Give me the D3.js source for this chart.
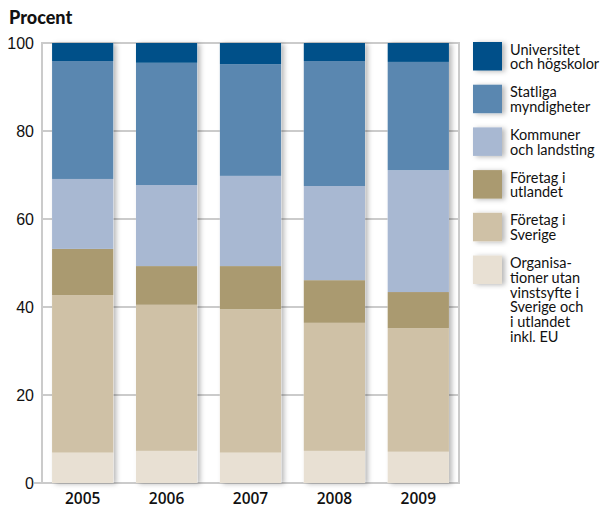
<!DOCTYPE html>
<html>
<head>
<meta charset="utf-8">
<script src="https://cdn.jsdelivr.net/npm/d3@7"></script>
<style>
  body { margin: 0; background: #fff; }
  svg { display: block; }
</style>
</head>
<body>
<svg id="chart" width="603" height="506"></svg>
<script>
// data (percent of total)
const years = ["2005", "2006", "2007", "2008", "2009"];
const seriesNames = [
  "Organisationer utan vinstsyfte i Sverige och i utlandet inkl. EU",
  "Företag i Sverige",
  "Företag i utlandet",
  "Kommuner och landsting",
  "Statliga myndigheter",
  "Universitet och högskolor"
];
const organisationer = [6.9, 7.3, 6.9, 7.3, 7.1];
const foretagSverige = [35.8, 33.2, 32.6, 29.1, 28.1];
const foretagUtland  = [10.5, 8.8, 9.8, 9.7, 8.2];
const kommuner       = [15.9, 18.4, 20.5, 21.4, 27.7];
const statliga       = [26.8, 27.8, 25.4, 28.4, 24.6];
const universitet    = [4.1, 4.5, 4.8, 4.1, 4.3];
const yTicks = [0, 20, 40, 60, 80, 100];

// legend text, top to bottom, as broken in the picture
const legendLines = [
  ["Universitet", "och högskolor"],
  ["Statliga", "myndigheter"],
  ["Kommuner", "och landsting"],
  ["Företag i", "utlandet"],
  ["Företag i", "Sverige"],
  ["Organisa-", "tioner utan", "vinstsyfte i", "Sverige och", "i utlandet", "inkl. EU"]
];

const colors = ["#e8e0d3", "#cfc1a6", "#aa9a70", "#a8b8d2", "#5a87b0", "#005089"];

const svg = d3.select("#chart");

const defs = svg.append("defs");
const shadow = defs.append("filter").attr("id", "shadow")
  .attr("x", "-20%").attr("y", "-20%").attr("width", "150%").attr("height", "140%");
shadow.append("feDropShadow")
  .attr("dx", 3).attr("dy", 1)
  .attr("stdDeviation", 2.5)
  .attr("flood-color", "#000")
  .attr("flood-opacity", 0.28);

const plot = {left: 42, right: 459, top: 43, bottom: 483};

const x = d3.scaleBand()
  .domain(years)
  .range([plot.left, plot.right])
  .paddingInner(0.27)
  .paddingOuter(0.12);

const y = d3.scaleLinear()
  .domain([0, 100])
  .range([plot.bottom, plot.top]);

// build table for stacking
const table = years.map((yr, i) => ({
  year: yr,
  s0: organisationer[i],
  s1: foretagSverige[i],
  s2: foretagUtland[i],
  s3: kommuner[i],
  s4: statliga[i],
  s5: universitet[i]
}));
const keys = ["s0", "s1", "s2", "s3", "s4", "s5"];
const stacked = d3.stack().keys(keys)(table);

// grid lines
const grid = svg.append("g");
grid.selectAll("line")
  .data(yTicks.filter(d => d > 0))
  .enter()
  .append("line")
  .attr("x1", plot.left)
  .attr("x2", plot.right)
  .attr("y1", d => y(d))
  .attr("y2", d => y(d))
  .style("stroke", "#cbcbcb")
  .style("stroke-width", "2px");

// frame: left, right, bottom
grid.append("line")
  .attr("x1", plot.left).attr("x2", plot.left)
  .attr("y1", plot.top - 1).attr("y2", plot.bottom + 1)
  .style("stroke", "#cbcbcb").style("stroke-width", "2px");
grid.append("line")
  .attr("x1", plot.right).attr("x2", plot.right)
  .attr("y1", plot.top - 1).attr("y2", plot.bottom + 1)
  .style("stroke", "#cbcbcb").style("stroke-width", "2px");
grid.append("line")
  .attr("x1", plot.left - 8).attr("x2", plot.right)
  .attr("y1", y(0)).attr("y2", y(0))
  .style("stroke", "#cbcbcb").style("stroke-width", "2px");

// bars with shadow
const bars = svg.append("g");
bars.selectAll("g.bar")
  .data(table)
  .enter()
  .append("rect")
  .attr("x", d => x(d.year))
  .attr("y", y(100))
  .attr("width", x.bandwidth())
  .attr("height", y(0) - y(100))
  .style("fill", "#fff")
  .attr("filter", "url(#shadow)");

bars.selectAll("g.layer")
  .data(stacked)
  .enter()
  .append("g")
  .attr("class", "layer")
  .style("fill", (d, i) => colors[i])
  .selectAll("rect")
  .data(d => d)
  .enter()
  .append("rect")
  .attr("x", d => x(d.data.year))
  .attr("y", d => y(d[1]))
  .attr("width", x.bandwidth())
  .attr("height", d => y(d[0]) - y(d[1]));

// y tick labels
svg.append("g").selectAll("text")
  .data(yTicks)
  .enter()
  .append("text")
  .attr("x", 34)
  .attr("y", d => y(d) + 6)
  .attr("text-anchor", "end")
  .style("font-family", "'Liberation Sans', Arial, sans-serif")
  .style("font-size", "16px")
  .style("fill", "#111")
  .text(d => d);

// x labels
svg.append("g").selectAll("text")
  .data(years)
  .enter()
  .append("text")
  .attr("x", d => x(d) + x.bandwidth() / 2)
  .attr("y", 504)
  .attr("text-anchor", "middle")
  .style("font-family", "'Open Sans', sans-serif")
  .style("font-size", "15.5px")
  .style("font-weight", "600")
  .style("fill", "#111")
  .text(d => d);

// title
svg.append("text")
  .attr("x", 9)
  .attr("y", 24)
  .style("font-family", "Lato, sans-serif")
  .style("font-weight", "900")
  .style("font-size", "18px")
  .style("fill", "#111")
  .text("Procent");

// legend, top item = last series
const legend = svg.append("g");
const legendColors = colors.slice().reverse();
legendLines.forEach((lines, i) => {
  const top = 42 + i * 42.7;
  legend.append("rect")
    .attr("x", 473)
    .attr("y", top)
    .attr("width", 29)
    .attr("height", 28.5)
    .style("fill", legendColors[i])
    .attr("filter", "url(#shadow)");
  lines.forEach((ln, j) => {
    legend.append("text")
      .attr("x", 510)
      .attr("y", top + 12.5 + j * 14.8)
      .style("font-family", "Lato, sans-serif")
      .style("font-size", "14.5px")
      .style("fill", "#111")
      .text(ln);
  });
});
</script>
</body>
</html>
